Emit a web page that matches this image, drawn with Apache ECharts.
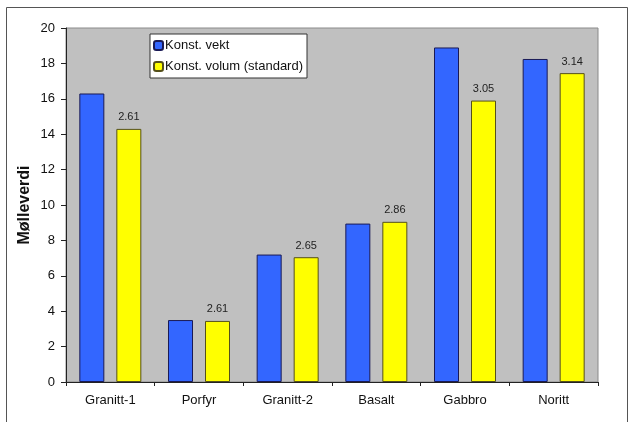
<!DOCTYPE html>
<html>
<head>
<meta charset="utf-8">
<script src="https://cdn.jsdelivr.net/npm/echarts@6/dist/echarts.min.js"></script>
<style>
  html, body { margin: 0; padding: 0; background: #ffffff; }
  #chart { width: 630px; height: 422px; }
</style>
</head>
<body>
<div id="chart"></div>
<script>
// Rock types tested
const categories = ['Granitt-1', 'Porfyr', 'Granitt-2', 'Basalt', 'Gabbro', 'Noritt'];
// Mill value at constant weight
const constWeight = [16.3, 3.5, 7.2, 8.95, 18.9, 18.25];
// Mill value at constant volume (standard)
const constVolume = [14.3, 3.45, 7.05, 9.05, 15.9, 17.45];
// Density of each rock, printed above the volume bars
const density = ['2.61', '2.61', '2.65', '2.86', '3.05', '3.14'];
const yTicks = { min: 0, max: 20, interval: 2 };

const font = 'Liberation Sans, Arial, sans-serif';
const chart = echarts.init(document.getElementById('chart'), null, { renderer: 'canvas' });

chart.setOption({
  animation: false,
  backgroundColor: '#ffffff',
  textStyle: { fontFamily: font },
  graphic: [{
    type: 'rect',
    shape: { x: 6.5, y: 7.5, width: 621, height: 420 },
    style: { fill: 'none', stroke: '#555555', lineWidth: 1 },
    z: -1
  }],
  grid: {
    left: 66, top: 28, right: 32, bottom: 40,
    show: true,
    backgroundColor: '#c0c0c0',
    borderColor: '#8a8a8a',
    borderWidth: 1
  },
  legend: {
    orient: 'vertical',
    left: 150, top: 34,
    backgroundColor: '#ffffff',
    borderColor: '#333333',
    borderWidth: 1,
    padding: [5, 4, 5, 3],
    itemWidth: 9, itemHeight: 9,
    itemGap: 8,
    textStyle: { fontFamily: font, fontSize: 13, color: '#111111', padding: [0, 0, 0, -3] },
    data: ['Konst. vekt', 'Konst. volum (standard)']
  },
  xAxis: {
    type: 'category',
    data: categories,
    axisLine: { lineStyle: { color: '#222222', width: 1 } },
    axisTick: { show: true, length: 4, inside: false, lineStyle: { color: '#222222' } },
    axisLabel: { fontFamily: font, fontSize: 13, color: '#111111', margin: 12 }
  },
  yAxis: {
    type: 'value',
    min: yTicks.min, max: yTicks.max, interval: yTicks.interval,
    name: 'Mølleverdi',
    nameLocation: 'middle',
    nameGap: 33,
    nameMoveOverlap: false,
    nameTextStyle: { fontFamily: font, fontSize: 16, fontWeight: 'bold', color: '#111111' },
    axisLine: { show: true, lineStyle: { color: '#222222', width: 1 } },
    axisTick: { show: true, length: 5, inside: false, lineStyle: { color: '#222222' } },
    axisLabel: { fontFamily: font, fontSize: 13, color: '#111111', margin: 11 },
    splitLine: { show: false }
  },
  series: [
    {
      name: 'Konst. vekt',
      type: 'bar',
      data: constWeight,
      barWidth: 25,
      barGap: '48%',
      itemStyle: { color: '#3366ff', borderColor: '#1a1a55', borderWidth: 1 }
    },
    {
      name: 'Konst. volum (standard)',
      type: 'bar',
      data: constVolume,
      barWidth: 25,
      itemStyle: { color: '#ffff00', borderColor: '#55501a', borderWidth: 1 },
      label: {
        show: true,
        position: 'top',
        distance: 6,
        fontFamily: font,
        fontSize: 11,
        color: '#222222',
        formatter: (p) => density[p.dataIndex]
      }
    }
  ]
});
</script>
</body>
</html>
